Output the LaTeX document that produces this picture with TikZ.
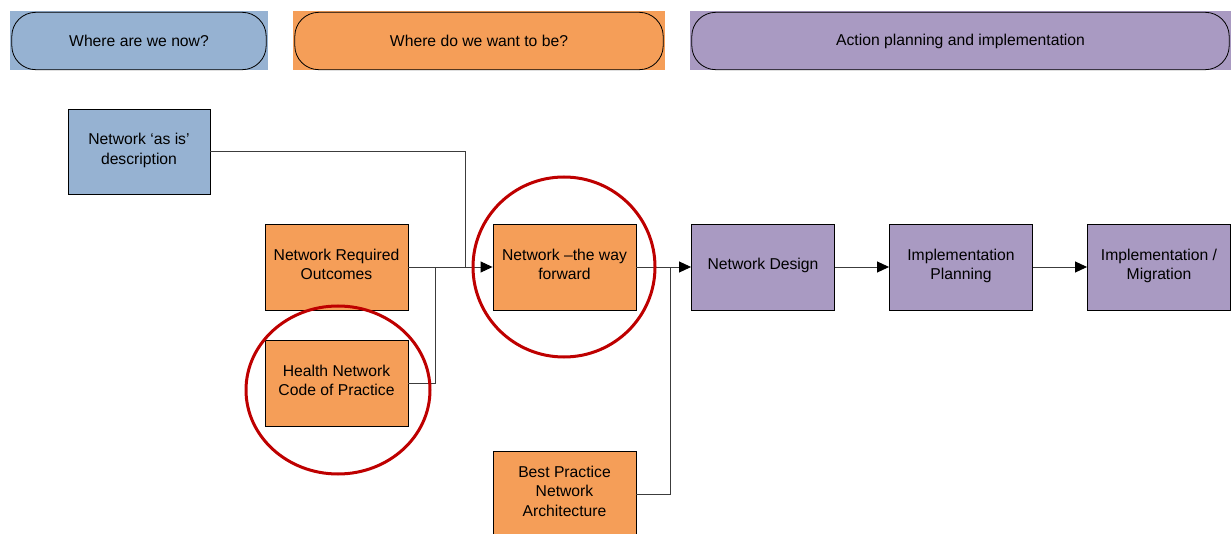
\documentclass[tikz,border=0pt]{standalone}
\usepackage{fontspec}
\setmainfont{Liberation Sans}
\usetikzlibrary{arrows.meta}
\definecolor{stageblue}{RGB}{150,178,210}
\definecolor{stageorange}{RGB}{245,158,88}
\definecolor{stagepurple}{RGB}{169,154,194}
\definecolor{ringred}{RGB}{190,0,0}
\definecolor{wire}{RGB}{60,60,60}
\begin{document}
\begin{tikzpicture}[x=1pt,y=-1pt,
  txt/.style={font=\fontsize{15.7}{19.5}\selectfont},
  band/.style={txt, inner sep=0pt, align=center},
  pill/.style={draw=black, line width=0.8pt, rounded corners=24pt},
  box/.style={txt, draw=black, line width=0.9pt, minimum width=143pt,
    minimum height=86pt, inner sep=2pt, align=center, text depth=5.5pt},
  bluebox/.style={box, fill=stageblue},
  orangebox/.style={box, fill=stageorange},
  purplebox/.style={box, fill=stagepurple},
  link/.style={draw=wire, line width=0.9pt},
  arrowlink/.style={link, -{Triangle[length=12pt,width=11pt,color=black]}},
  ring/.style={draw=ringred, line width=3pt}
]
\useasboundingbox (0,0) rectangle (1231,534);

% stage bands along the top
\node[band, fill=stageblue, minimum width=258pt, minimum height=59pt] (now) at (139,41) {Where are we now?};
\node[band, fill=stageorange, minimum width=372pt, minimum height=59pt] (want) at (479,41) {Where do we want to be?};
\node[band, fill=stagepurple, minimum width=541pt, minimum height=59pt] (act) at (960.5,41) {Action planning and implementation};
\foreach \b in {now,want,act}
  \draw[pill] ([shift={(2,1)}]\b.north west) rectangle ([shift={(-2,-1)}]\b.south east);

% process boxes
\node[bluebox, minimum width=142pt, minimum height=85pt] (asis) at (139,151.5) {Network ‘as is’\\description};
\node[orangebox] (req) at (336.5,267) {Network Required\\Outcomes};
\node[orangebox] (health) at (336.5,383) {Health Network\\Code of Practice};
\node[orangebox] (fwd) at (564.5,267) {Network –the way\\forward};
\node[orangebox] (best) at (564.5,494) {Best Practice\\Network\\Architecture};
\node[purplebox] (design) at (763,267) {Network Design};
\node[purplebox] (plan) at (961,267) {Implementation\\Planning};
\node[purplebox] (migr) at (1159,267) {Implementation /\\Migration};

% junction points on the main flow line
\coordinate (jasis) at (465,267);
\coordinate (jhealth) at (435,267);
\coordinate (jbest) at (670,267);

% connectors
\draw[link] (asis.east) -| (jasis);
\draw[link] (health.east) -| (jhealth);
\draw[link] (best.east) -| (jbest);
\draw[arrowlink] (req.east) -- (fwd.west);
\draw[arrowlink] (fwd.east) -- (design.west);
\draw[arrowlink] (design.east) -- (plan.west);
\draw[arrowlink] (plan.east) -- (migr.west);

% red highlight rings
\draw[ring] (564,267) ellipse [x radius=91pt, y radius=90pt];
\draw[ring] (338,390) ellipse [x radius=92pt, y radius=84pt];
\end{tikzpicture}
\end{document}
